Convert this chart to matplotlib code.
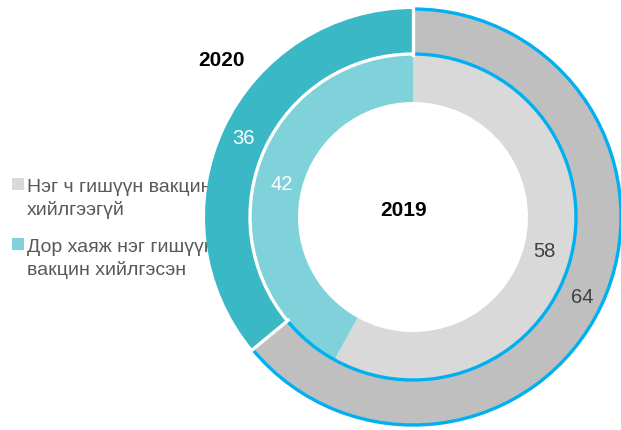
import numpy as np
import matplotlib
matplotlib.use("Agg")
import matplotlib.pyplot as plt
from matplotlib.patches import Arc

plt.rcParams['font.family'] = ['Liberation Sans', 'DejaVu Sans']

# data
categories = ["Нэг ч гишүүн вакцин\nхийлгээгүй", "Дор хаяж нэг гишүүн\nвакцин хийлгэсэн"]
vals_2020 = [64, 36]
vals_2019 = [58, 42]
years = ["2020", "2019"]

outer_cols = ['#bfbfbf', '#3bb8c6']
inner_cols = ['#d9d9d9', '#80d2da']
blue = '#00b0f0'

fig = plt.figure(figsize=(6.21, 4.31), dpi=100)
ax = fig.add_axes([0, 0, 1, 1])

cx, cy = 413, 213
r_out, r_mid, r_in = 208, 163, 115

fmt = lambda p: f'{p:.0f}'
# clockwise from 12 o'clock
w_out, _, t_out = ax.pie(vals_2020, colors=outer_cols, startangle=90, counterclock=False,
                         center=(cx, cy), radius=r_out, frame=True,
                         autopct=fmt, pctdistance=187 / r_out,
                         wedgeprops=dict(width=r_out - r_mid, linewidth=0))
w_in, _, t_in = ax.pie(vals_2019, colors=inner_cols, startangle=90, counterclock=False,
                       center=(cx, cy), radius=r_mid, frame=True,
                       autopct=fmt, pctdistance=136 / r_mid,
                       wedgeprops=dict(width=r_mid - r_in, linewidth=0))
ax.set_xlim(0, 621)
ax.set_ylim(0, 431)
ax.set_aspect('equal')
ax.axis('off')

for t, c in zip(t_out, ['#404040', 'white']):
    t.set_color(c)
    t.set_fontsize(14.5)
for t, c in zip(t_in, ['#404040', 'white']):
    t.set_color(c)
    t.set_fontsize(14.5)

# gray segment span (clockwise from top)
gray_deg = 360 * vals_2020[0] / sum(vals_2020)
th1, th2 = 90 - gray_deg, 90

# white separators
ax.add_patch(Arc((cx, cy), 2 * r_mid, 2 * r_mid, theta1=th2, theta2=th1 + 360,
                 color='white', lw=2.4, zorder=3))
for th in (th1, th2):
    a = np.deg2rad(th)
    ax.plot([cx + (r_mid - 1) * np.cos(a), cx + (r_out + 2) * np.cos(a)],
            [cy + (r_mid - 1) * np.sin(a), cy + (r_out + 2) * np.sin(a)],
            color='white', lw=2.4, zorder=4)

# blue outline of the gray 2020 segment
ax.add_patch(Arc((cx, cy), 2 * r_out, 2 * r_out, theta1=th1, theta2=th2,
                 color=blue, lw=2.4, zorder=3))
ax.add_patch(Arc((cx, cy), 2 * r_mid, 2 * r_mid, theta1=th1, theta2=th2,
                 color=blue, lw=2.4, zorder=3))

ax.text(221, 431 - 60, years[0], fontsize=15, fontweight='bold', ha='center', va='center')
ax.text(404, 431 - 211, years[1], fontsize=15, fontweight='bold', ha='center', va='center')

# legend drawn by hand, behind the rings
for i, (cat, col) in enumerate(zip(categories, inner_cols)):
    ytop = 431 - (185 + 60 * i)
    ax.scatter([17.5], [ytop], marker='s', s=80, color=col, linewidths=0, zorder=0.5)
    ax.text(27, ytop - 14, cat, fontsize=14, color='#595959', ha='left', va='center',
            linespacing=1.4, zorder=0.5)

fig.savefig('out.png', dpi=100)
